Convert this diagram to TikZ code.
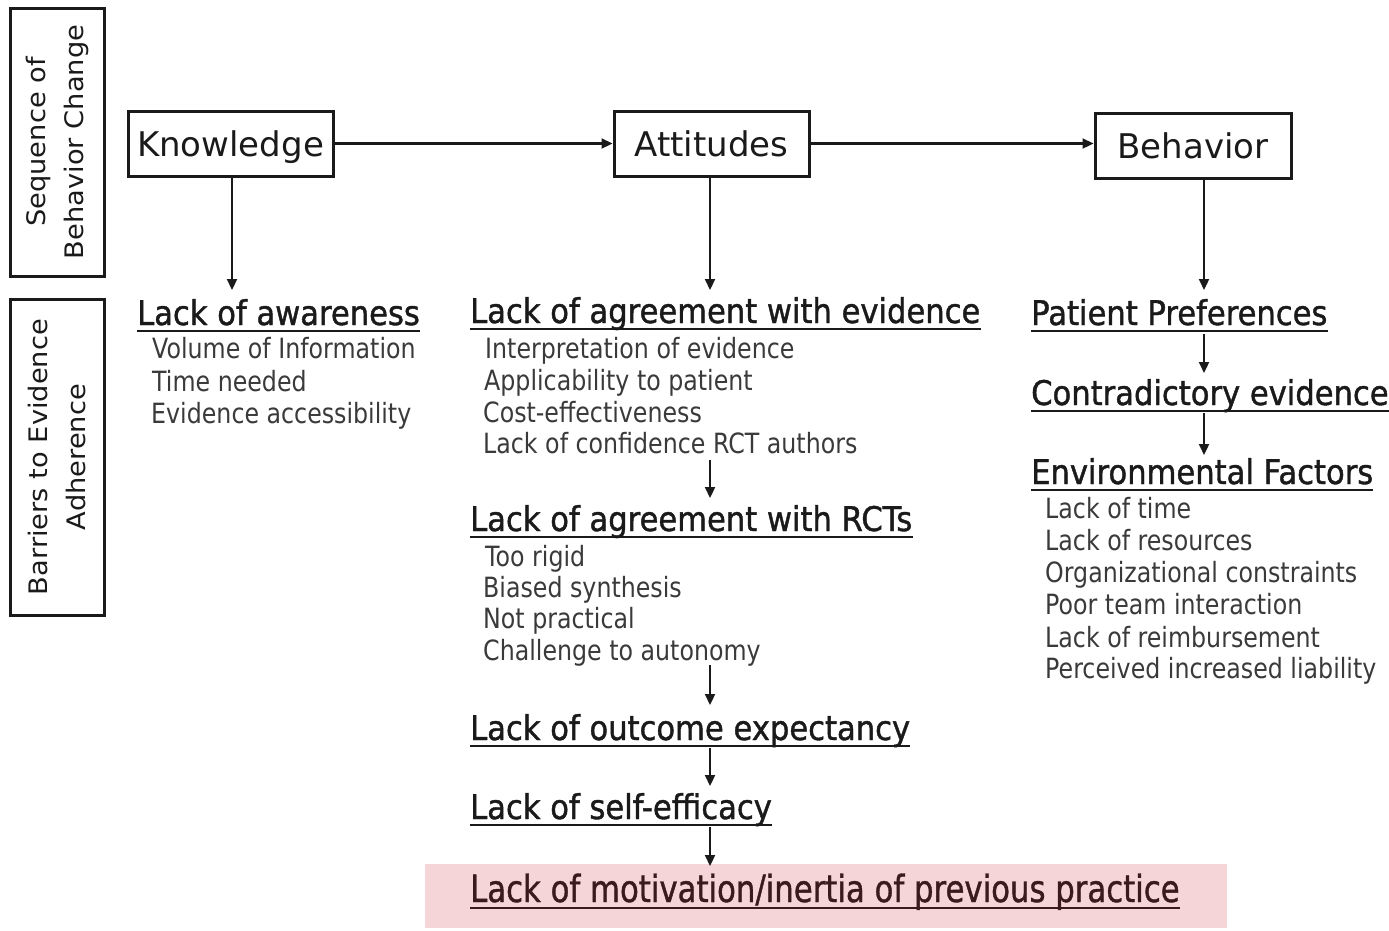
\documentclass[tikz,border=0pt]{standalone}
\usepackage{fontspec}
\setmainfont{DejaVu Sans}
\newfontfamily\boxf{DejaVu Sans}
\newfontfamily\headf[FakeStretch=0.9,FakeBold=1.2]{DejaVu Sans}
\newfontfamily\subf[FakeStretch=0.85]{DejaVu Sans}
\newfontfamily\rotf[FakeStretch=1.07]{DejaVu Sans}
\newfontfamily\motf[FakeStretch=0.82,FakeBold=1.0]{DejaVu Sans}
\usetikzlibrary{arrows.meta}
\definecolor{ink}{HTML}{1A1A1A}
\definecolor{subgray}{HTML}{3A3A3A}
\definecolor{pinkbg}{HTML}{F6D5D8}
\definecolor{maroon}{HTML}{3A1A1C}
\tikzset{
  seqbox/.style={draw=ink, line width=3pt, inner sep=0, text height=26pt, text depth=0pt, font=\boxf\fontsize{34}{40}\selectfont, text=ink},
  sidebox/.style={draw=ink, line width=3pt, inner sep=0},
  sidetext/.style={rotate=90, align=center, inner sep=0, font=\rotf\fontsize{25.5}{38}\selectfont, text=ink},
  head/.style={anchor=base west, inner sep=0, font=\headf\fontsize{34}{40}\selectfont, text=ink},
  item/.style={anchor=base west, inner sep=0, font=\subf\fontsize{27.9}{32}\selectfont, text=subgray},
  ul/.style={draw=ink, line width=2.2pt},
  arr/.style={draw=ink, line width=2.2pt, -{Triangle[length=11pt,width=10pt]}}
}
\newcommand{\uline}[2][ink]{\draw[ul,draw=#1] ([yshift=-6pt]#2.base west) -- ([yshift=-6pt]#2.base east);}
\begin{document}
\begin{tikzpicture}[x=1pt,y=-1pt]
\useasboundingbox (0,0) rectangle (1389,930);
% side boxes
\node[sidebox, minimum width=94, minimum height=268] (sb1) at (57,142) {};
\node[sidetext] (st1) at (sb1.center) {Sequence of\\Behavior Change};
\node[sidebox, minimum width=94, minimum height=316] (sb2) at (57,457) {};
\node[sidetext] (st2) at (sb2.center) {Barriers to Evidence\\Adherence};
% top boxes
\node[seqbox, minimum width=205, minimum height=65] (K) at (230.5,143.5) {Knowledge};
\node[seqbox, minimum width=195, minimum height=65] (A) at (711.5,143.5) {Attitudes};
\node[seqbox, minimum width=196, minimum height=65] (B) at (1193,145.5) {Behavior};
\draw[arr] (K.east) -- (A.west);
\draw[arr] (A.east) -- (A.east -| B.west);
% pink background
\node[fill=pinkbg, inner sep=0, minimum width=802, minimum height=64] (pink) at (826,896) {};
% column 1
\node[head] (h1) at (137,325) {Lack of awareness};
\uline{h1}
\node[item] (i11) at (152,358) {Volume of Information};
\node[item] (i12) at (152,391) {Time needed};
\node[item] (i13) at (151,423) {Evidence accessibility};
% column 2
\node[head] (h2) at (470,323) {Lack of agreement with evidence};
\uline{h2}
\node[item] (i21) at (485,358) {Interpretation of evidence};
\node[item] (i22) at (484,390) {Applicability to patient};
\node[item] (i23) at (483,422) {Cost-effectiveness};
\node[item] (i24) at (483,453) {Lack of confidence RCT authors};
\node[head] (h3) at (470,531) {Lack of agreement with RCTs};
\uline{h3}
\node[item] (i31) at (485,566) {Too rigid};
\node[item] (i32) at (483,597) {Biased synthesis};
\node[item] (i33) at (483,628) {Not practical};
\node[item] (i34) at (483,660) {Challenge to autonomy};
\node[head] (h4) at (470,740) {Lack of outcome expectancy};
\uline{h4}
\node[head] (h5) at (470,819) {Lack of self-efficacy};
\uline{h5}
\node[anchor=base west, inner sep=0, font=\motf\fontsize{37.5}{42}\selectfont, text=maroon] (h6) at (470,902) {Lack of motivation/inertia of previous practice};
\uline[maroon]{h6}
% column 3
\node[head] (h7) at (1031,325) {Patient Preferences};
\uline{h7}
\node[head] (h8) at (1031,405) {Contradictory evidence};
\uline{h8}
\node[head] (h9) at (1031,484) {Environmental Factors};
\uline{h9}
\node[item] (i91) at (1045,518) {Lack of time};
\node[item] (i92) at (1045,550) {Lack of resources};
\node[item] (i93) at (1045,582) {Organizational constraints};
\node[item] (i94) at (1045,614) {Poor team interaction};
\node[item] (i95) at (1045,647) {Lack of reimbursement};
\node[item] (i96) at (1045,678) {Perceived increased liability};
% arrow end points
\coordinate (k1) at (232,290);
\coordinate (a1) at (710,290);
\coordinate (b1) at (1204,290);
\coordinate (c2s) at (710,460); \coordinate (c2e) at (710,498);
\coordinate (c3s) at (710,665); \coordinate (c3e) at (710,705);
\coordinate (c4s) at (710,748); \coordinate (c4e) at (710,786);
\coordinate (c5s) at (710,827); \coordinate (c5e) at (710,866);
\coordinate (r1s) at (1204,334); \coordinate (r1e) at (1204,373);
\coordinate (r2s) at (1204,413); \coordinate (r2e) at (1204,455);
\draw[arr] (K.south -| k1) -- (k1);
\draw[arr] (A.south -| a1) -- (a1);
\draw[arr] (B.south -| b1) -- (b1);
\draw[arr] (c2s) -- (c2e);
\draw[arr] (c3s) -- (c3e);
\draw[arr] (c4s) -- (c4e);
\draw[arr] (c5s) -- (c5e);
\draw[arr] (r1s) -- (r1e);
\draw[arr] (r2s) -- (r2e);
\end{tikzpicture}
\end{document}
